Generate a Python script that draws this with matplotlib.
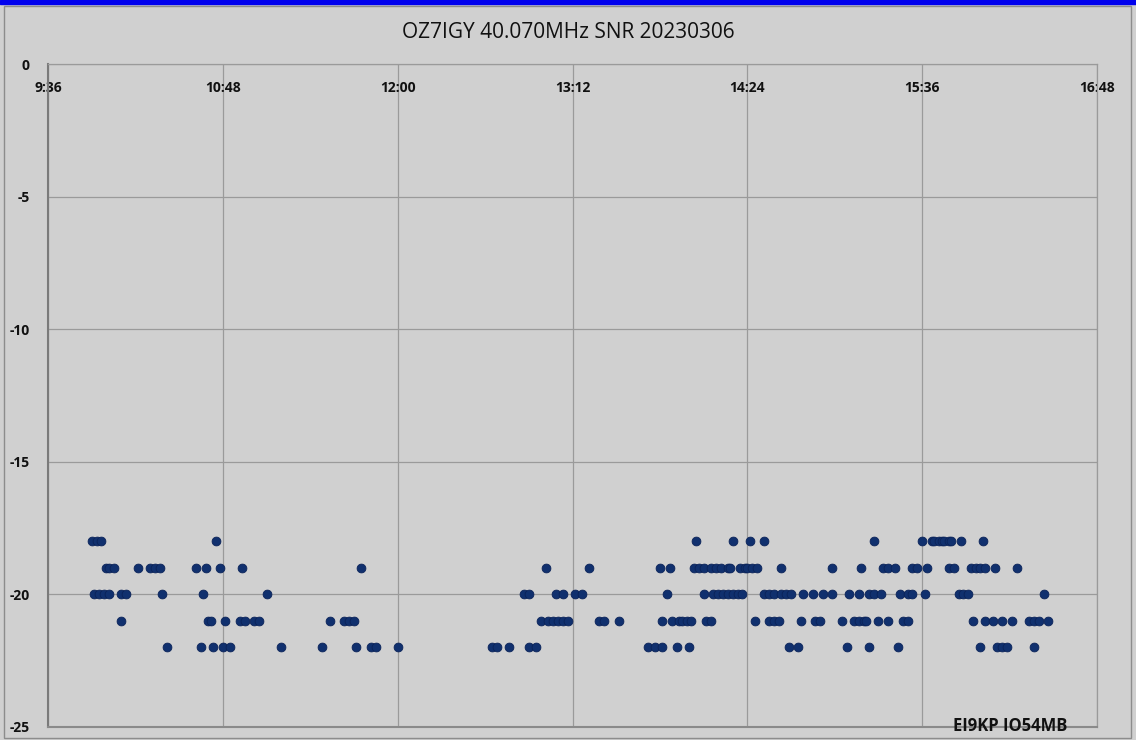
import matplotlib.pyplot as plt
from matplotlib.patches import Rectangle
from matplotlib.ticker import FuncFormatter, MultipleLocator

# SNR readings (dB) at OZ7IGY 40.070 MHz, times in UTC grouped by SNR level
snr_levels = [-18, -19, -20, -21, -22]

times_m18 = ["9:54", "9:56", "9:58", "10:45", "14:03", "14:18", "14:25", "14:31",
             "15:16", "15:36", "15:40", "15:41", "15:43", "15:44", "15:45", "15:47",
             "15:48", "15:52", "16:01"]

times_m19 = ["10:00", "10:01", "10:03", "10:13", "10:18", "10:20", "10:22", "10:37",
             "10:41", "10:47", "10:56", "11:45", "13:01", "13:19", "13:48", "13:52",
             "14:02", "14:04", "14:06", "14:09", "14:11", "14:13", "14:16", "14:17",
             "14:21", "14:23", "14:24", "14:26", "14:28", "14:38", "14:59", "15:11",
             "15:20", "15:22", "15:25", "15:32", "15:34", "15:38", "15:47", "15:49",
             "15:56", "15:58", "16:00", "16:02", "16:06", "16:15"]

times_m20 = ["9:55", "9:57", "9:59", "10:01", "10:06", "10:08", "10:23", "10:40",
             "11:06", "12:52", "12:54", "13:05", "13:08", "13:13", "13:16", "13:51",
             "14:06", "14:10", "14:12", "14:14", "14:16", "14:18", "14:20", "14:22",
             "14:31", "14:33", "14:35", "14:38", "14:40", "14:42", "14:47", "14:51",
             "14:55", "14:59", "15:06", "15:10", "15:14", "15:16", "15:19", "15:27",
             "15:30", "15:32", "15:37", "15:51", "15:53", "15:55", "16:26"]

times_m21 = ["10:06", "10:42", "10:43", "10:49", "10:55", "10:57", "11:01", "11:03",
             "11:32", "11:38", "11:40", "11:42", "12:59", "13:02", "13:04", "13:06",
             "13:08", "13:10", "13:23", "13:25", "13:31", "13:49", "13:53", "13:56",
             "13:57", "13:59", "14:01", "14:07", "14:09", "14:27", "14:33", "14:35",
             "14:37", "14:46", "14:52", "14:54", "15:03", "15:08", "15:10", "15:12",
             "15:13", "15:18", "15:22", "15:28", "15:30", "15:57", "16:02", "16:05",
             "16:09", "16:13", "16:20", "16:22", "16:24", "16:28"]

times_m22 = ["10:25", "10:39", "10:44", "10:48", "10:51", "11:12", "11:29", "11:43",
             "11:49", "11:51", "12:00", "12:39", "12:41", "12:46", "12:54", "12:57",
             "13:43", "13:46", "13:49", "13:55", "14:00", "14:41", "14:45", "15:05",
             "15:14", "15:26", "16:00", "16:07", "16:09", "16:11", "16:22"]

time_groups = [times_m18, times_m19, times_m20, times_m21, times_m22]


def to_minutes(t):
    h, m = t.split(":")
    return int(h) * 60 + int(m)


def fmt_time(v, pos):
    v = int(round(v))
    return f"{v // 60}:{v % 60:02d}"


plt.rcParams['font.family'] = ['Liberation Sans Narrow', 'Open Sans', 'DejaVu Sans']
plt.rcParams['axes.unicode_minus'] = False

bg = '#d0d0d0'
fig = plt.figure(figsize=(11.36, 7.4), dpi=100, facecolor=bg)
ax = fig.add_axes([48 / 1136, 13 / 740, 1049 / 1136, 663 / 740])
ax.set_facecolor(bg)

xs, ys = [], []
for level, group in zip(snr_levels, time_groups):
    for t in group:
        xs.append(to_minutes(t))
        ys.append(level)

ax.scatter(xs, ys, s=40, color='#10306e', edgecolors='#0a2258', linewidths=0.6, zorder=3)

ax.set_xlim(to_minutes("9:36"), to_minutes("16:48"))
ax.set_ylim(-25, 0)
ax.xaxis.set_major_locator(MultipleLocator(72))
ax.xaxis.set_major_formatter(FuncFormatter(fmt_time))
ax.yaxis.set_major_locator(MultipleLocator(5))

ax.grid(True, color='#9a9a9a', linewidth=0.9)
ax.set_axisbelow(True)

ax.tick_params(axis='x', top=True, labeltop=True, bottom=False, labelbottom=False,
               length=0, pad=-22, labelsize=10, labelcolor='#111111')
ax.tick_params(axis='y', length=0, pad=13, labelsize=10, labelcolor='#111111')
for lbl in ax.get_xticklabels() + ax.get_yticklabels():
    lbl.set_fontweight('bold')

for side in ['top', 'right']:
    ax.spines[side].set_color('#9a9a9a')
    ax.spines[side].set_linewidth(0.9)
ax.spines['left'].set_color('#7a7a7a')
ax.spines['left'].set_linewidth(1.5)
ax.spines['bottom'].set_color('#8a8a8a')
ax.spines['bottom'].set_linewidth(1.5)

fig.text(568 / 1136, 1 - 33 / 740, "OZ7IGY 40.070MHz SNR 20230306",
         ha='center', va='center', fontsize=15, color='#111111')
fig.text(1010 / 1136, 1 - 726 / 740, "EI9KP IO54MB", ha='center', va='center',
         fontsize=12, fontweight='bold', color='#111111')

# outer frame and blue strip along the top edge
fig.patches.append(Rectangle((4 / 1136, 2 / 740), 1127 / 1136, 732 / 740,
                             transform=fig.transFigure, fill=False,
                             edgecolor='#8c8c8c', linewidth=1.0))
fig.patches.append(Rectangle((0, 1 - 4 / 740), 1, 4 / 740,
                             transform=fig.transFigure, color='#0000ee', zorder=5))

fig.savefig('out.png', dpi=100, facecolor=bg)
